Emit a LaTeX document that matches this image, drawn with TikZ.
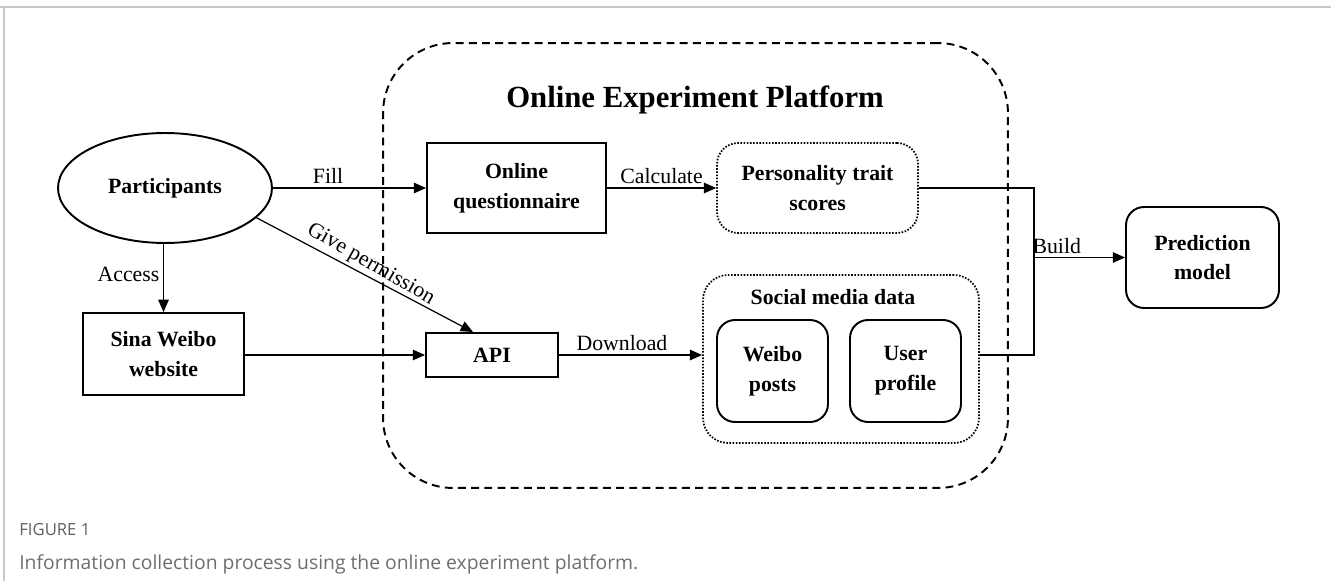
\documentclass[tikz,border=0pt]{standalone}
\usepackage{fontspec}
\setmainfont{Liberation Serif}
\newfontfamily\capfont{Open Sans}
\usetikzlibrary{arrows.meta,shapes.geometric}

\definecolor{framegray}{HTML}{C8C8C8}
\definecolor{capgray}{HTML}{6E6E6E}

\begin{document}
\begin{tikzpicture}[x=0.02cm, y=-0.02cm,
  font=\fontsize{12.4}{14}\selectfont,
  box/.style={draw, line width=1.1pt, align=center, inner sep=0pt,
    font=\fontsize{12.4}{17}\selectfont\bfseries},
  roundbox/.style={box, rounded corners=0.36cm},
  dotbox/.style={box, rounded corners=0.42cm, line width=1pt,
    dash pattern=on 0.9pt off 0.9pt},
  arr/.style={line width=0.7pt, -{Triangle[length=7pt,width=6pt]}},
  link/.style={line width=0.7pt},
  lbl/.style={font=\fontsize{12.4}{14}\selectfont, inner sep=2pt}]
  \useasboundingbox (0,0) rectangle (1331,581);
  % page frame
  \draw[framegray, line width=1.2pt] (0,7) -- (1331,7);
  \draw[framegray, line width=0.8pt] (4,7) -- (4,581);
  % platform
  \node[draw, line width=1.1pt, dash pattern=on 4.5pt off 3pt, rounded corners=1.4cm,
    minimum width=12.5cm, minimum height=8.9cm] (platform) at (695.5,265.5) {};
  \node[font=\fontsize{17.5}{20}\selectfont\bfseries] (ptitle) at (695,100) {Online Experiment Platform};
  % left side
  \node[draw, ellipse, line width=1.1pt, minimum width=4.28cm, minimum height=2.2cm,
    font=\fontsize{12.4}{14}\selectfont\bfseries] (part) at (165,188) {Participants};
  \node[box, minimum width=3.22cm, minimum height=1.64cm] (sina) at (163.5,354) {Sina Weibo\\website};
  % inside platform
  \node[box, minimum width=3.58cm, minimum height=1.8cm] (quest) at (516.5,188) {Online\\questionnaire};
  \node[box, minimum width=2.64cm, minimum height=0.88cm] (api) at (492,355) {API};
  \node[dotbox, minimum width=4.02cm, minimum height=1.8cm] (trait) at (817.5,188) {Personality trait\\scores};
  \node[dotbox, rounded corners=0.5cm, minimum width=5.52cm, minimum height=3.36cm] (social) at (841,359) {};
  \node[font=\fontsize{12.4}{14}\selectfont\bfseries] (stitle) at (833,297) {Social media data};
  \node[roundbox, minimum width=2.22cm, minimum height=2.04cm] (posts) at (772.5,371) {Weibo\\posts};
  \node[roundbox, minimum width=2.22cm, minimum height=2.04cm] (profile) at (905.5,371) {User\\profile};
  % right side
  \node[roundbox, minimum width=3.06cm, minimum height=2.02cm] (pred) at (1202.5,257.5) {Prediction\\model};
  \coordinate (join) at (1034,257.5);
  % connectors
  \draw[arr] (part.east) -- node[lbl, above, pos=0.36] {Fill} (quest.west);
  \draw[arr] (sina.north |- part.south) -- node[lbl, left, pos=0.45] {Access} (sina.north);
  \draw[arr] (part.-18) -- node[lbl, sloped, above, pos=0.5, rotate=-2, yshift=-1pt] {Give permission} ([xshift=-0.38cm]api.north);
  \draw[arr] (sina.east |- api.west) -- (api.west);
  \draw[arr] (quest.east) -- node[lbl, above] {Calculate} (trait.west);
  \draw[arr] (api.east) -- node[lbl, above, pos=0.44] {Download} (api.east -| social.west);
  \draw[link] (trait.east) -| (join);
  \draw[link] (api.east -| social.east) -| (join);
  \draw[arr] (join) -- node[lbl, above, pos=0.25] {Build} (pred.west);
  % caption
  \node[anchor=base west, inner sep=0pt, text=capgray!85!black,
    font=\capfont\fontsize{9.5}{11}\selectfont] (fig) at (19,535) {FIGURE 1};
  \node[anchor=base west, inner sep=0pt, text=capgray,
    font=\capfont\fontsize{11}{13}\selectfont] (cap) at (19,569)
    {Information collection process using the online experiment platform.};
\end{tikzpicture}
\end{document}
